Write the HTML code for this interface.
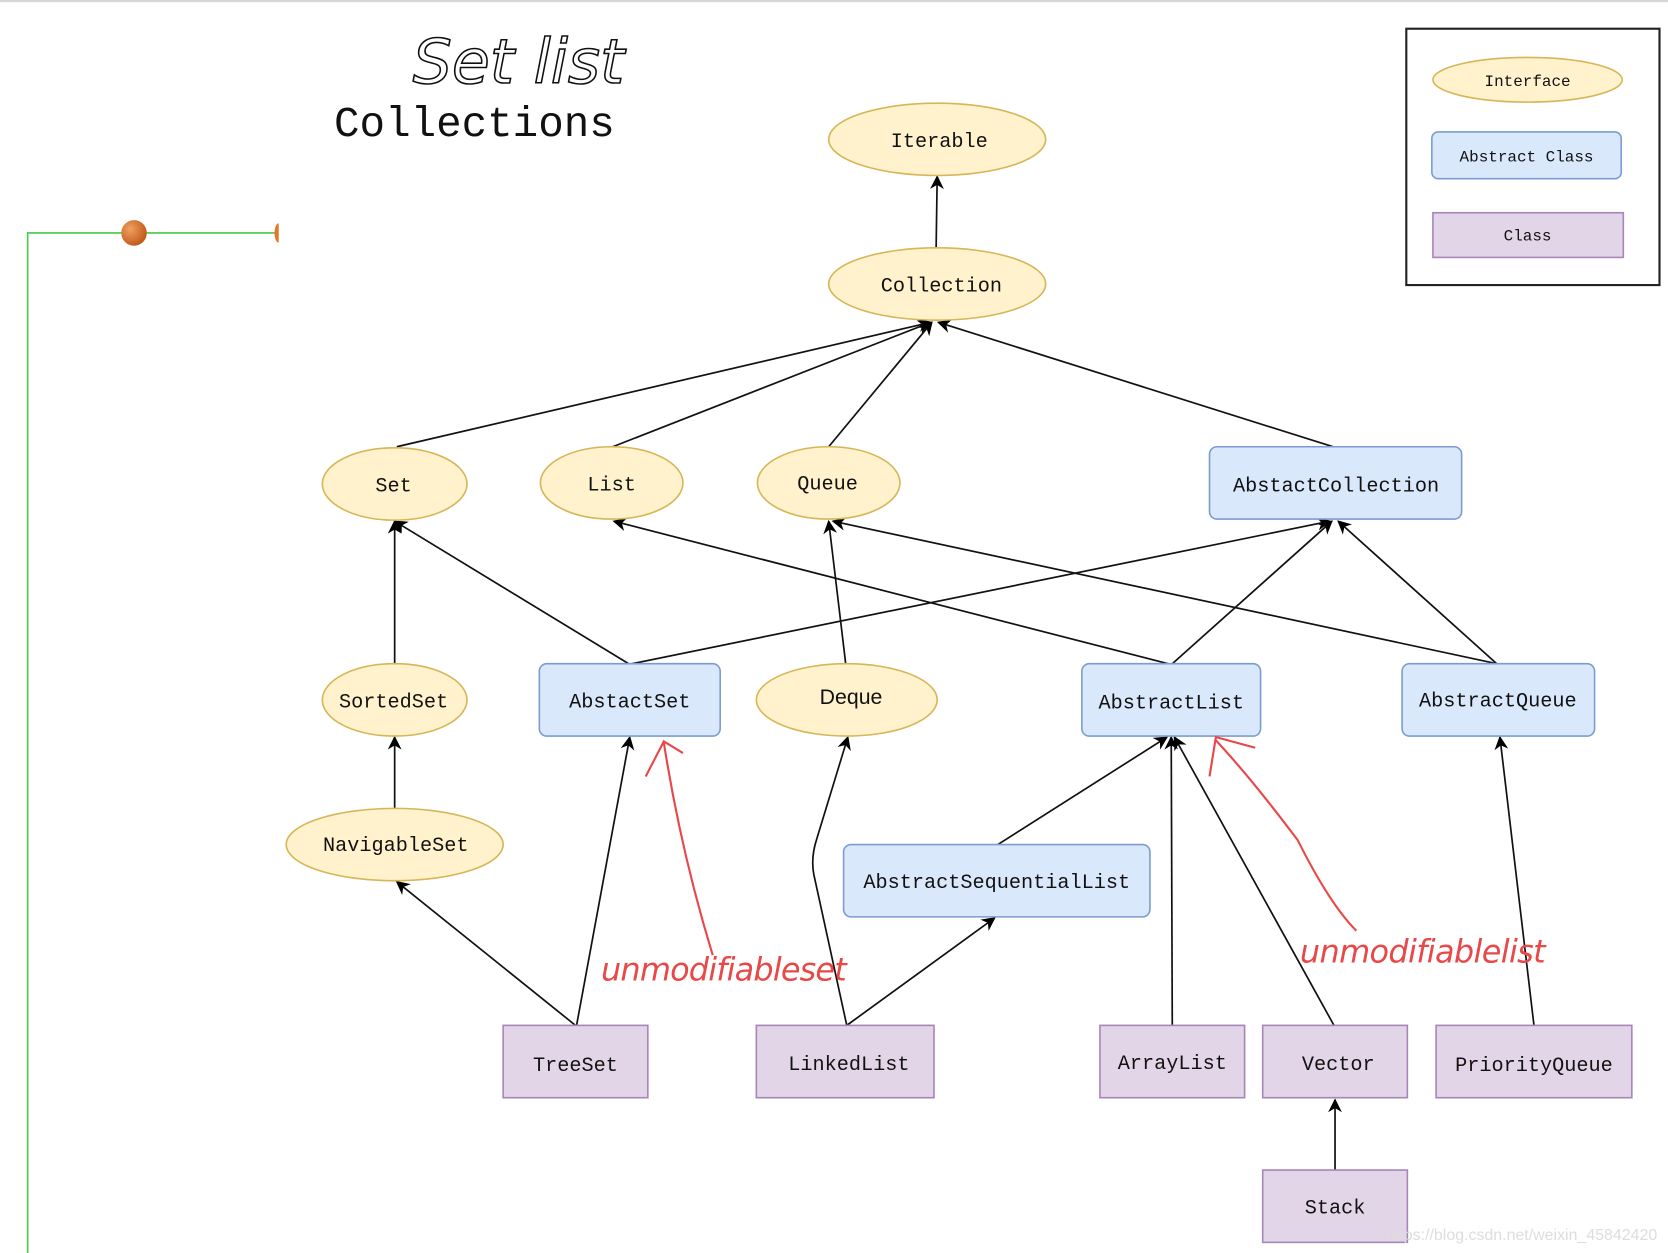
<!DOCTYPE html>
<html><head><style>html,body{margin:0;padding:0;background:#fff;width:1668px;height:1253px;overflow:hidden}
text{font-family:"Liberation Mono",monospace;fill:#111}</style></head><body>
<svg width="1668" height="1253" viewBox="0 0 1568 1178" preserveAspectRatio="none" xmlns="http://www.w3.org/2000/svg">
<defs><marker id="a" viewBox="0 0 10 10" refX="9" refY="5" markerWidth="13" markerHeight="13" markerUnits="userSpaceOnUse" orient="auto"><path d="M0,0 L10,5 L0,10 L3,5 z" fill="#000"/></marker>
<radialGradient id="g" cx="0.35" cy="0.35" r="0.7"><stop offset="0" stop-color="#f0a060"/><stop offset="1" stop-color="#c05818"/></radialGradient></defs>
<rect x="0" y="0" width="1568" height="2" fill="#d8d8d8"/>
<path d="M26,1178 V219 H260" stroke="#4c4" stroke-width="1.5" fill="none"/>
<circle cx="126" cy="219" r="12" fill="url(#g)"/>
<path d="M262,210 a4,9 0 0 0 0,18" fill="#e07828"/>
<text x="388" y="78" style="font-family:'DejaVu Sans',sans-serif;font-style:italic;font-size:58px;font-weight:200;fill:#fff;stroke:#111;stroke-width:1.5">Set list</text>
<text x="314" y="128" font-size="40">Collections</text>
<g stroke="#111" stroke-width="1.6" fill="none" marker-end="url(#a)">
<line x1="880" y1="233" x2="881" y2="166"/>
<line x1="373" y1="420" x2="875" y2="303"/>
<line x1="576" y1="420" x2="875" y2="303"/>
<line x1="779" y1="420" x2="876" y2="303"/>
<line x1="1253" y1="420" x2="882" y2="303"/>
<line x1="371" y1="624" x2="371" y2="490"/>
<line x1="591" y1="624" x2="371" y2="490"/>
<line x1="1098" y1="624" x2="577" y2="490"/>
<line x1="795" y1="624" x2="779" y2="490"/>
<line x1="1407" y1="624" x2="783" y2="490"/>
<line x1="594" y1="624" x2="1250" y2="490"/>
<line x1="1102" y1="624" x2="1252" y2="490"/>
<line x1="1407" y1="624" x2="1258" y2="490"/>
<line x1="371" y1="760" x2="371" y2="693"/>
<line x1="541" y1="964" x2="373" y2="829"/>
<line x1="542" y1="964" x2="592" y2="693"/>
<path d="M796,964 L765,822 Q762,806 768,788 L797,693"/>
<line x1="796" y1="964" x2="935" y2="863"/>
<line x1="938" y1="794" x2="1097" y2="693"/>
<line x1="1102" y1="964" x2="1101" y2="693"/>
<line x1="1254" y1="964" x2="1104" y2="693"/>
<line x1="1442" y1="964" x2="1410" y2="693"/>
<line x1="1255" y1="1100" x2="1255" y2="1034"/>
</g>
<g stroke="#d6b656" stroke-width="1.5" fill="#fff2cc">
<ellipse cx="881" cy="131" rx="102" ry="34"/>
<ellipse cx="881" cy="267" rx="102" ry="34"/>
<ellipse cx="371" cy="455" rx="68" ry="34"/>
<ellipse cx="575" cy="454" rx="67" ry="34"/>
<ellipse cx="779" cy="454" rx="67" ry="34"/>
<ellipse cx="371" cy="658" rx="68" ry="34"/>
<ellipse cx="796" cy="658" rx="85" ry="34"/>
<ellipse cx="371" cy="794" rx="102" ry="34"/>
<ellipse cx="1436" cy="75" rx="89" ry="21"/>
</g>
<g stroke="#7c9ccf" stroke-width="1.5" fill="#dae8fc">
<rect x="1137" y="420" width="237" height="68" rx="7"/>
<rect x="507" y="624" width="170" height="68" rx="7"/>
<rect x="1017" y="624" width="168" height="68" rx="7"/>
<rect x="1318" y="624" width="181" height="68" rx="7"/>
<rect x="793" y="794" width="288" height="68" rx="7"/>
<rect x="1346" y="124" width="178" height="44" rx="6"/>
</g>
<g stroke="#a885b8" stroke-width="1.5" fill="#e1d5e7">
<rect x="473" y="964" width="136" height="68"/>
<rect x="711" y="964" width="167" height="68"/>
<rect x="1034" y="964" width="136" height="68"/>
<rect x="1187" y="964" width="136" height="68"/>
<rect x="1350" y="964" width="184" height="68"/>
<rect x="1187" y="1100" width="136" height="68"/>
<rect x="1347" y="200" width="179" height="42"/>
</g>
<rect x="1322" y="27" width="238" height="241" fill="none" stroke="#222" stroke-width="2"/>
<g font-size="19" text-anchor="middle">
<text x="883" y="138">Iterable</text>
<text x="885" y="274">Collection</text>
<text x="370" y="462">Set</text>
<text x="575" y="461">List</text>
<text x="778" y="460">Queue</text>
<text x="1256" y="462">AbstactCollection</text>
<text x="370" y="665">SortedSet</text>
<text x="592" y="665">AbstactSet</text>
<text x="800" y="662" style="font-family:'Liberation Sans',sans-serif" font-size="20">Deque</text>
<text x="1101" y="666">AbstractList</text>
<text x="1408" y="664">AbstractQueue</text>
<text x="372" y="800">NavigableSet</text>
<text x="937" y="835">AbstractSequentialList</text>
<text x="541" y="1007">TreeSet</text>
<text x="798" y="1006">LinkedList</text>
<text x="1102" y="1005">ArrayList</text>
<text x="1258" y="1006">Vector</text>
<text x="1442" y="1007">PriorityQueue</text>
<text x="1255" y="1141">Stack</text>
<text x="1436" y="81" font-size="15">Interface</text>
<text x="1435" y="152" font-size="15">Abstract Class</text>
<text x="1436" y="226" font-size="15">Class</text>
</g>
<g stroke="#e84848" stroke-width="2" fill="none">
<path d="M670,898 Q640,800 624,698"/><path d="M607,730 L624,697 L642,708"/>
<path d="M1275,875 Q1250,850 1220,790 Q1175,730 1142,695"/><path d="M1137,730 L1143,693 L1180,703"/>
</g>
<text x="565" y="922" style="font-family:'DejaVu Sans',sans-serif;font-style:italic;font-size:30px;font-weight:200;fill:#e84848;letter-spacing:-1px" textLength="230">unmodifiableset</text>
<text x="1222" y="905" style="font-family:'DejaVu Sans',sans-serif;font-style:italic;font-size:30px;font-weight:200;fill:#e84848;letter-spacing:-1px" textLength="230">unmodifiablelist</text>
<text x="1303" y="1166" style="font-family:'Liberation Sans',sans-serif;font-size:15px;fill:#ddd">https://blog.csdn.net/weixin_45842420</text>
</svg>
</body></html>
